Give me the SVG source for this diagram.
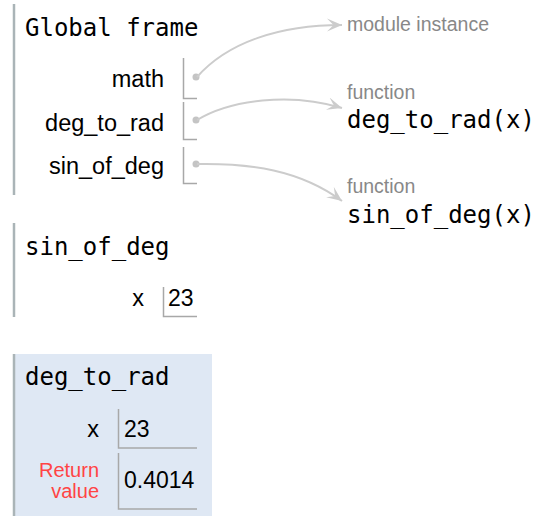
<svg xmlns="http://www.w3.org/2000/svg" width="537" height="516" viewBox="0 0 537 516">
<style>
.mono{font-family:"DejaVu Sans Mono",monospace;font-size:24px;fill:#000}
.lbl{font-family:"Liberation Sans",Arial,sans-serif;font-size:23.5px;fill:#000;text-anchor:end}
.val{font-family:"Liberation Sans",Arial,sans-serif;font-size:23px;fill:#000}
.ret{font-family:"Liberation Sans",Arial,sans-serif;font-size:20px;fill:#f44;text-anchor:end}
.type{font-family:"Liberation Sans",Arial,sans-serif;font-size:19.5px;fill:#888}
.bar{stroke:#aab4b7;stroke-width:2.5;fill:none}
.cell{stroke:#a8a8a8;stroke-width:1.5;fill:none}
.dot{fill:#c4c4c4}
.conn{stroke:#cccccc;stroke-width:2;fill:none;marker-end:url(#arr)}
</style>
<defs>
<marker id="arr" markerUnits="userSpaceOnUse" viewBox="-15 -7 15 14" refX="0" refY="0" markerWidth="15" markerHeight="14" orient="auto">
<path d="M0,0 L-15,-6.5 L-8.5,0 L-15,6.5 Z" fill="#cccccc"/>
</marker>
</defs>
<rect width="537" height="516" fill="#ffffff"/>

<g id="global-frame">
<line class="bar" x1="14" y1="4" x2="14" y2="195"/>
<text class="mono" x="25" y="36">Global frame</text>
<text class="lbl" x="164" y="87">math</text>
<path class="cell" d="M183.5,58 V98.5 H197"/>
<circle class="dot" cx="196" cy="77" r="3.5"/>
<text class="lbl" x="164" y="131">deg_to_rad</text>
<path class="cell" d="M183.5,102 V139.5 H197"/>
<circle class="dot" cx="196" cy="120" r="3.5"/>
<text class="lbl" x="164" y="174">sin_of_deg</text>
<path class="cell" d="M183.5,147 V183.5 H197"/>
<circle class="dot" cx="196" cy="164" r="3.5"/>
</g>

<g id="module-instance">
<text class="type" x="347" y="31">module instance</text>
</g>

<g id="func-deg_to_rad">
<text class="type" x="347" y="99">function</text>
<text class="mono" x="347" y="128">deg_to_rad(x)</text>
</g>

<g id="func-sin_of_deg">
<text class="type" x="347" y="193">function</text>
<text class="mono" x="347" y="223">sin_of_deg(x)</text>
</g>

<g id="frame-sin_of_deg">
<line class="bar" x1="14" y1="223" x2="14" y2="317"/>
<text class="mono" x="25" y="255">sin_of_deg</text>
<text class="lbl" x="144" y="306">x</text>
<path class="cell" d="M163.5,287 V316.5 H197"/>
<text class="val" x="168" y="306">23</text>
</g>

<g id="frame-deg_to_rad">
<rect x="13" y="354" width="199" height="162" fill="#dfe8f4"/>
<line class="bar" x1="14" y1="354" x2="14" y2="516"/>
<text class="mono" x="25" y="385">deg_to_rad</text>
<text class="lbl" x="99" y="437">x</text>
<path class="cell" d="M118.5,409 V448 H197"/>
<text class="val" x="124" y="437">23</text>
<text class="ret" x="99" y="477">Return</text>
<text class="ret" x="99" y="498">value</text>
<path class="cell" d="M118.5,453 V509 H197"/>
<text class="val" x="124" y="488">0.4014</text>
</g>

<g id="connectors">
<path class="conn" d="M197,77 C228,42 280,25 342,25"/>
<path class="conn" d="M197,120 C230,100 290,92 342,108"/>
<path class="conn" d="M197,164 C250,163 300,170 342,201"/>
</g>
</svg>
